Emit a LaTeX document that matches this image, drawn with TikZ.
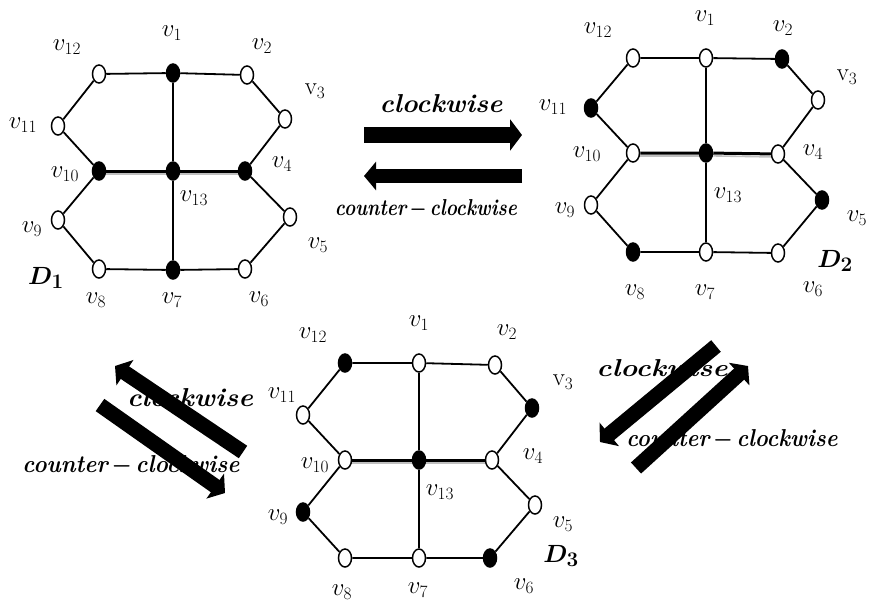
\documentclass[tikz,border=0pt]{standalone}
\usepackage{graphicx}
\usetikzlibrary{shapes.geometric,arrows.meta}
\tikzset{
 vo/.style={ellipse,draw,line width=1.5pt,fill=white,minimum width=13pt,minimum height=18pt,inner sep=0pt},
 vf/.style={vo,fill=black},
 gedge/.style={line width=1.8pt},
 midedge/.style={line width=3pt},
 shadeline/.style={line width=1.6pt,gray!50},
 lbl/.style={font=\fontsize{25}{28}\selectfont,inner sep=0pt},
 dlbl/.style={font=\fontsize{28}{32}\selectfont\boldmath,inner sep=0pt},
 wtxt/.style={inner sep=0pt},
 fatarrow/.style={-{Triangle[width=30pt,length=12pt]},line width=15pt},
}
\newcommand{\cw}[2]{\resizebox{#1}{#2}{\bfseries\itshape clockwise}}
\newcommand{\ccw}[2]{\resizebox{#1}{#2}{\bfseries\itshape counter\,{\boldmath$-$}\,clockwise}}
\begin{document}
\begin{tikzpicture}[x=1pt,y=-1pt]
\useasboundingbox (0,0) rectangle (874,602);
% ---------- D1 ----------
\node[vo] (a12) at (99,74) {};
\node[vf] (a1) at (173,73) {};
\node[vo] (a2) at (247,75) {};
\node[vo] (a3) at (285,119) {};
\node[vf] (a4) at (245,171) {};
\node[vo] (a5) at (290,217) {};
\node[vo] (a6) at (245,269) {};
\node[vf] (a7) at (173,270) {};
\node[vo] (a8) at (99,269) {};
\node[vo] (a9) at (58,220) {};
\node[vf] (a10) at (99,171) {};
\node[vo] (a11) at (58,126) {};
\node[vf] (a13) at (173,171) {};
% ---------- D2 ----------
\node[vo] (b12) at (633,58) {};
\node[vo] (b1) at (706,58) {};
\node[vf] (b2) at (782,59) {};
\node[vo] (b3) at (818,100) {};
\node[vo] (b4) at (778,154) {};
\node[vf] (b5) at (822,200) {};
\node[vo] (b6) at (778,253) {};
\node[vo] (b7) at (706,252) {};
\node[vf] (b8) at (633,252) {};
\node[vo] (b9) at (591,205) {};
\node[vo] (b10) at (633,153) {};
\node[vf] (b11) at (591,108) {};
\node[vf] (b13) at (706,153) {};
% ---------- D3 ----------
\node[vf] (c12) at (345,363) {};
\node[vo] (c1) at (419,363) {};
\node[vo] (c2) at (495,365) {};
\node[vf] (c3) at (532,408) {};
\node[vo] (c4) at (492,460) {};
\node[vo] (c5) at (535,505) {};
\node[vf] (c6) at (490,558) {};
\node[vo] (c7) at (419,558) {};
\node[vo] (c8) at (345,558) {};
\node[vf] (c9) at (303,512) {};
\node[vo] (c10) at (345,460) {};
\node[vo] (c11) at (303,415) {};
\node[vf] (c13) at (419,460) {};
% edges
\foreach \p in {a,b,c}{
  \draw[gedge] (\p12)--(\p1)--(\p2)--(\p3)--(\p4)--(\p5)--(\p6)--(\p7)--(\p8)--(\p9)--(\p10)--(\p11)--(\p12);
  \draw[gedge] (\p1)--(\p13)--(\p7);
  \draw[shadeline] ([yshift=-2.9pt]\p10.east) -- ([yshift=-2.9pt]\p13.west);
  \draw[shadeline] ([yshift=-2.9pt]\p13.east) -- ([yshift=-2.9pt]\p4.west);
  \draw[midedge] (\p10)--(\p13)--(\p4);
}
% labels D1
\node[lbl] (la1) at (172,33) {$v_1$};
\node[lbl] (la12) at (67,47) {$v_{12}$};
\node[lbl] (la2) at (262,46) {$v_2$};
\node[lbl] (la3) at (315,91) {$\mathrm{v}_3$};
\node[lbl] (la11) at (23,125) {$v_{11}$};
\node[lbl] (la10) at (65,174) {$v_{10}$};
\node[lbl] (la4) at (282,164) {$v_4$};
\node[lbl] (la13) at (194,198) {$v_{13}$};
\node[lbl] (la9) at (32,229) {$v_9$};
\node[lbl] (la5) at (318,245) {$v_5$};
\node[lbl] (la8) at (96,300) {$v_8$};
\node[lbl] (la7) at (172,300) {$v_7$};
\node[lbl] (la6) at (259,299) {$v_6$};
\node[dlbl] (d1) at (46,278) {$D_1$};
% labels D2
\node[lbl] (lb1) at (705,18) {$v_1$};
\node[lbl] (lb12) at (598,30) {$v_{12}$};
\node[lbl] (lb2) at (783,28) {$v_2$};
\node[lbl] (lb3) at (847,77) {$\mathrm{v}_3$};
\node[lbl] (lb11) at (553,107) {$v_{11}$};
\node[lbl] (lb10) at (587,154) {$v_{10}$};
\node[lbl] (lb4) at (813,152) {$v_4$};
\node[lbl] (lb13) at (728,195) {$v_{13}$};
\node[lbl] (lb9) at (565,210) {$v_9$};
\node[lbl] (lb5) at (857,218) {$v_5$};
\node[lbl] (lb8) at (635,292) {$v_8$};
\node[lbl] (lb7) at (705,292) {$v_7$};
\node[lbl] (lb6) at (813,289) {$v_6$};
\node[dlbl] (d2) at (835,261) {$D_2$};
% labels D3
\node[lbl] (lc1) at (419,323) {$v_1$};
\node[lbl] (lc12) at (313,335) {$v_{12}$};
\node[lbl] (lc2) at (507,332) {$v_2$};
\node[lbl] (lc3) at (563,382) {$\mathrm{v}_3$};
\node[lbl] (lc11) at (282,395) {$v_{11}$};
\node[lbl] (lc10) at (315,465) {$v_{10}$};
\node[lbl] (lc4) at (533,456) {$v_4$};
\node[lbl] (lc13) at (440,492) {$v_{13}$};
\node[lbl] (lc9) at (278,517) {$v_9$};
\node[lbl] (lc5) at (563,524) {$v_5$};
\node[lbl] (lc8) at (342,592) {$v_8$};
\node[lbl] (lc7) at (418,590) {$v_7$};
\node[lbl] (lc6) at (524,586) {$v_6$};
\node[dlbl] (d3) at (561,556) {$D_3$};
% arrow texts
\node[wtxt] (t1) at (441,104) {\cw{123pt}{18pt}};
\node[wtxt] (t2) at (426,209) {\ccw{182pt}{16pt}};
\node[wtxt] (t3) at (190,398) {\cw{126pt}{18pt}};
\node[wtxt] (t4) at (131,466) {\ccw{217pt}{17pt}};
\node[wtxt] (t5) at (662,368) {\cw{131pt}{17pt}};
\node[wtxt] (t6) at (732,440) {\ccw{211pt}{17pt}};
% arrows
\coordinate (p1s) at (364,135); \coordinate (p1e) at (522,135);
\coordinate (p2s) at (522,176); \coordinate (p2e) at (364,176);
\coordinate (p3s) at (243,452); \coordinate (p3e) at (115,366);
\coordinate (p4s) at (100,405); \coordinate (p4e) at (225,493);
\coordinate (p5s) at (716,346); \coordinate (p5e) at (600,442);
\coordinate (p6s) at (636,468); \coordinate (p6e) at (748,366);
\draw[fatarrow,line width=16pt,-{Triangle[width=31pt,length=12pt]}] (p1s) -- (p1e);
\draw[fatarrow,line width=14pt,-{Triangle[width=28pt,length=12pt]}] (p2s) -- (p2e);
\draw[fatarrow] (p3s) -- (p3e);
\draw[fatarrow] (p4s) -- (p4e);
\draw[fatarrow] (p5s) -- (p5e);
\draw[fatarrow] (p6s) -- (p6e);
\end{tikzpicture}
\end{document}
